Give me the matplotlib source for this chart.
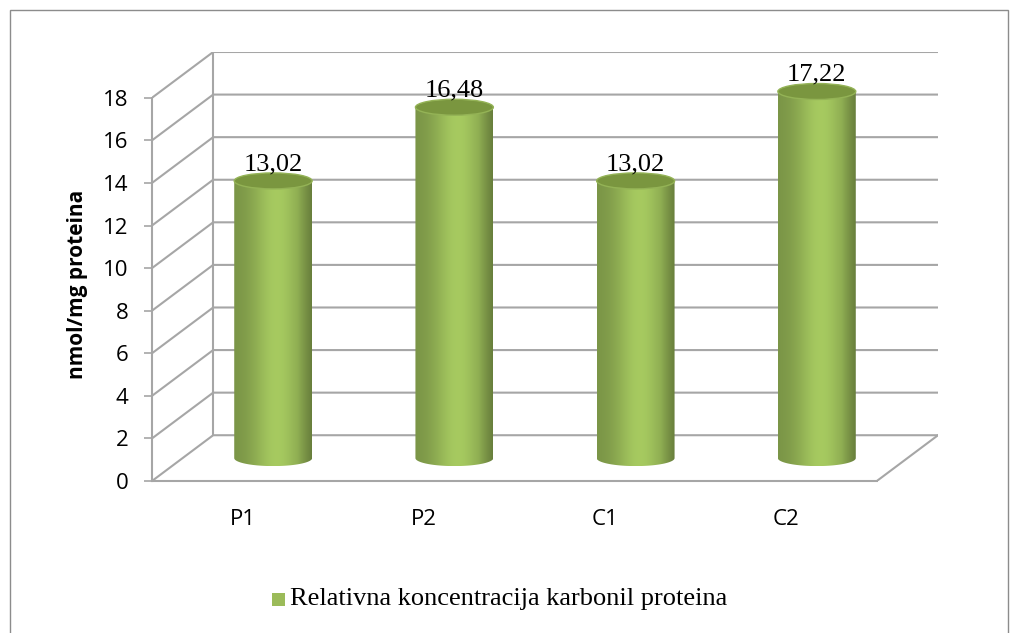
import numpy as np
import matplotlib.pyplot as plt
from matplotlib.patches import Polygon, Ellipse, Rectangle

# ==== DATA ====
categories = ["P1", "P2", "C1", "C2"]
values = [13.02, 16.48, 13.02, 17.22]
series_name = "Relativna koncentracija karbonil proteina"
y_ticks = [0, 2, 4, 6, 8, 10, 12, 14, 16, 18]
y_label = "nmol/mg proteina"

# ==== 3D LOOK (oblique projection, in data units) ====
DEPTH_X = 0.3375     # category units
DEPTH_Y = 2.15       # value units
CYL_W = 0.43         # cylinder width in category units
ELL_H = 0.75         # ellipse height in value units
GRID_C = "#a6a6a6"
GREEN_TOP = "#7a963f"

fig = plt.figure(figsize=(10.18, 6.33), dpi=100)
fig.patches.append(Rectangle((10 / 1018, -0.05), 998 / 1018, 1.05 - 10 / 633,
                             transform=fig.transFigure, fill=False,
                             edgecolor="#8c8c8c", linewidth=1.0))

ax = fig.add_axes([152 / 1018, 1 - 481 / 633, (938 - 152) / 1018, (481 - 52) / 633])
n = len(categories)
x_lo, x_hi = -0.5, n - 0.5
ax.patch.set_alpha(0)

# walls and gridlines
for v in y_ticks:
    ax.plot([x_lo, x_lo + DEPTH_X, x_hi + DEPTH_X], [v, v + DEPTH_Y, v + DEPTH_Y],
            color=GRID_C, lw=1.5, zorder=1, solid_capstyle="butt")
ax.plot([x_lo + DEPTH_X, x_lo + DEPTH_X], [DEPTH_Y, y_ticks[-1] + DEPTH_Y],
        color=GRID_C, lw=1.5, zorder=1)
ax.plot([x_hi, x_hi + DEPTH_X], [0, DEPTH_Y], color=GRID_C, lw=1.5, zorder=1)

# cylinders: horizontal shading profile
prof = np.linspace(0, 1, 200)
shade = 0.74 + 0.28 * np.exp(-((prof - 0.55) / 0.32) ** 2)
shade = shade - 0.14 * np.clip((prof - 0.82) / 0.18, 0, 1)
base_rgb = np.array([163, 198, 94]) / 255.0
grad = np.clip(shade[None, :, None] * base_rgb[None, None, :], 0, 1)

base = DEPTH_Y / 2
for i, v in enumerate(values):
    cx = i + DEPTH_X / 2
    x0, x1 = cx - CYL_W / 2, cx + CYL_W / 2
    top = base + v
    th = np.linspace(np.pi, 2 * np.pi, 60)
    pts = np.column_stack([cx + CYL_W / 2 * np.cos(th), base + ELL_H / 2 * np.sin(th)])
    pts = np.vstack([pts, [[x1, top], [x0, top]]])
    body = Polygon(pts, closed=True, facecolor="none", edgecolor="none")
    ax.add_patch(body)
    im = ax.imshow(grad, extent=[x0, x1, base - ELL_H / 2, top], aspect="auto",
                   interpolation="bilinear", zorder=3)
    im.set_clip_path(body)
    ax.add_patch(Ellipse((cx, top), CYL_W, ELL_H, facecolor=GREEN_TOP,
                         edgecolor="#94b356", lw=1.0, zorder=4))
    ax.text(cx, top + ELL_H / 2 - 0.1, f"{v:.2f}".replace(".", ","),
            ha="center", va="bottom", fontsize=19, family="Liberation Serif", zorder=5)

ax.set_xlim(x_lo, x_hi + DEPTH_X)
ax.set_ylim(0, y_ticks[-1] + DEPTH_Y)

# axes
for s in ["top", "right"]:
    ax.spines[s].set_visible(False)
ax.spines["left"].set_bounds(0, y_ticks[-1])
ax.spines["bottom"].set_bounds(x_lo, x_hi)
for s in ["left", "bottom"]:
    ax.spines[s].set_color(GRID_C)
    ax.spines[s].set_linewidth(1.5)
ax.set_yticks(y_ticks)
ax.set_yticklabels([str(t) for t in y_ticks], fontsize=16, family="Open Sans")
ax.tick_params(axis="y", length=6, color=GRID_C, width=1.2, pad=11)
ax.set_xticks(range(n))
ax.set_xticklabels(categories, fontsize=16, family="Open Sans")
ax.tick_params(axis="x", length=0, pad=20)
ax.set_ylabel(y_label, fontsize=15, fontweight="bold", family="Open Sans")
ax.yaxis.set_label_coords(-0.082, 0.458)

# legend
fig.patches.append(Rectangle((272 / 1018, 1 - 606 / 633), 13 / 1018, 13 / 633,
                             transform=fig.transFigure, facecolor="#9bbb59",
                             edgecolor="none"))
fig.text(290 / 1018, 1 - 599 / 633, series_name, ha="left", va="center",
         fontsize=19, family="Liberation Serif")

fig.savefig("out.png", dpi=100)
